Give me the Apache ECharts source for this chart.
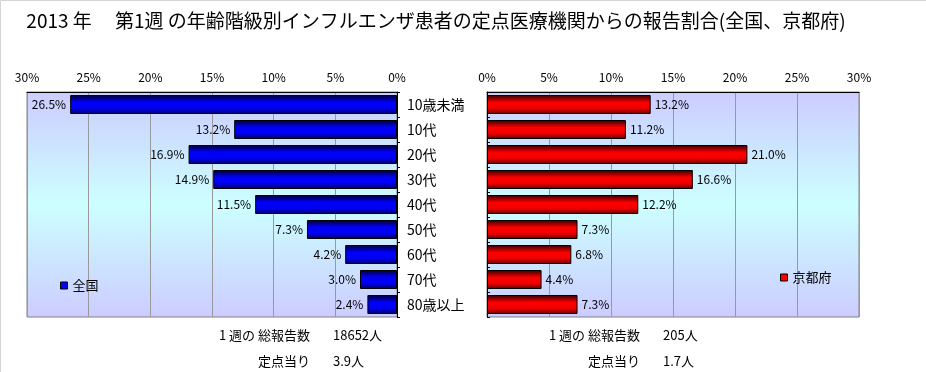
<!DOCTYPE html>
<html>
<head>
<meta charset="utf-8">
<script src="https://cdn.jsdelivr.net/npm/echarts@6/dist/echarts.min.js"></script>
<style>
html,body{margin:0;padding:0;background:#fff;}
#c{width:926px;height:372px;}
</style>
</head>
<body>
<div id="c"></div>
<script>
const categories = ['10歳未満','10代','20代','30代','40代','50代','60代','70代','80歳以上'];
const nationValues = [26.5,13.2,16.9,14.9,11.5,7.3,4.2,3.0,2.4];
const kyotoValues = [13.2,11.2,21.0,16.6,12.2,7.3,6.8,4.4,7.3];
const nationName = '全国';
const kyotoName = '京都府';
const titleText = '2013 年　 第1週 の年齢階級別インフルエンザ患者の定点医療機関からの報告割合(全国、京都府)';
const nationTotal = '18652人';
const nationPerPoint = '3.9人';
const kyotoTotal = '205人';
const kyotoPerPoint = '1.7人';

const FONT = '"Noto Sans CJK JP","Noto Sans",sans-serif';
const chart = echarts.init(document.getElementById('c'), null, {renderer:'canvas'});

const bgGrad = {type:'linear',x:0,y:0,x2:0,y2:1,colorStops:[
  {offset:0,color:'#ccccff'},{offset:0.5,color:'#ccffff'},{offset:1,color:'#ccccff'}]};
const blueGrad = {type:'linear',x:0,y:0,x2:0,y2:1,colorStops:[
  {offset:0,color:'#000030'},{offset:0.4,color:'#0000ff'},{offset:0.7,color:'#0000f0'},{offset:1,color:'#000060'}]};
const redGrad = {type:'linear',x:0,y:0,x2:0,y2:1,colorStops:[
  {offset:0,color:'#300000'},{offset:0.4,color:'#ff0000'},{offset:0.7,color:'#f00000'},{offset:1,color:'#600000'}]};

const valAxisCommon = {
  type:'value', min:0, max:30, interval:5, position:'top',
  axisLine:{show:true, lineStyle:{color:'#000', width:1}},
  axisTick:{show:false},
  axisLabel:{formatter:'{value}%', color:'#000', fontSize:12, fontFamily:FONT, margin:9},
  splitLine:{show:true, lineStyle:{color:'#999999', width:1}}
};

const txt = (x,y,text,align) => ({type:'text', x:x, y:y, style:{text:text, fill:'#000', font:'13px '+FONT, textAlign:align, textVerticalAlign:'middle'}});

chart.setOption({
  animation:false,
  title:{text:titleText, left:431, top:6, textAlign:'center',
    textStyle:{fontSize:19, fontWeight:'normal', color:'#000', fontFamily:FONT}},
  legend:[
    {data:[{name:nationName, itemStyle:{color:'#0000ff', borderColor:'#000', borderWidth:1}}],
     left:55, top:274, icon:'rect', itemWidth:7, itemHeight:7,
     textStyle:{fontSize:13, color:'#000', fontFamily:FONT}, selectedMode:false},
    {data:[{name:kyotoName, itemStyle:{color:'#ff0000', borderColor:'#000', borderWidth:1}}],
     left:775, top:266, icon:'rect', itemWidth:7, itemHeight:7,
     textStyle:{fontSize:13, color:'#000', fontFamily:FONT}, selectedMode:false}
  ],
  grid:[
    {left:27, top:92, width:370, height:225, show:true, backgroundColor:bgGrad, borderColor:'#808080', borderWidth:1, containLabel:false},
    {left:487, top:92, width:372, height:225, show:true, backgroundColor:bgGrad, borderColor:'#808080', borderWidth:1, containLabel:false}
  ],
  xAxis:[
    Object.assign({}, valAxisCommon, {gridIndex:0, inverse:true}),
    Object.assign({}, valAxisCommon, {gridIndex:1})
  ],
  yAxis:[
    {type:'category', gridIndex:0, data:categories, inverse:true, position:'right',
     axisLine:{show:true, lineStyle:{color:'#000'}},
     axisTick:{show:true, length:3, lineStyle:{color:'#000'}},
     axisLabel:{color:'#000', fontSize:14, fontFamily:FONT, margin:10, align:'left'}},
    {type:'category', gridIndex:1, data:categories, inverse:true, position:'left',
     axisLine:{show:true, lineStyle:{color:'#000'}},
     axisTick:{show:true, length:3, inside:true, lineStyle:{color:'#000'}},
     axisLabel:{show:false}}
  ],
  series:[
    {name:nationName, type:'bar', xAxisIndex:0, yAxisIndex:0, data:nationValues, barWidth:19,
     itemStyle:{color:blueGrad, borderColor:'#000', borderWidth:1},
     label:{show:true, position:'left', distance:4, color:'#000', fontSize:12, fontFamily:FONT,
       formatter:p=>p.value.toFixed(1)+'%'}},
    {name:kyotoName, type:'bar', xAxisIndex:1, yAxisIndex:1, data:kyotoValues, barWidth:19,
     itemStyle:{color:redGrad, borderColor:'#000', borderWidth:1},
     label:{show:true, position:'right', distance:4, color:'#000', fontSize:12, fontFamily:FONT,
       formatter:p=>p.value.toFixed(1)+'%'}}
  ],
  graphic:[
    {type:'rect', shape:{x:0.5,y:0.5,width:940,height:400}, style:{fill:'none', stroke:'#d4d4d4', lineWidth:1}, silent:true},
    txt(310,335,'1 週の 総報告数','right'), txt(333,335,nationTotal,'left'),
    txt(310,361,'定点当り','right'), txt(333,361,nationPerPoint,'left'),
    txt(640,335,'1 週の 総報告数','right'), txt(663,335,kyotoTotal,'left'),
    txt(640,361,'定点当り','right'), txt(663,361,kyotoPerPoint,'left')
  ]
});
</script>
</body>
</html>
